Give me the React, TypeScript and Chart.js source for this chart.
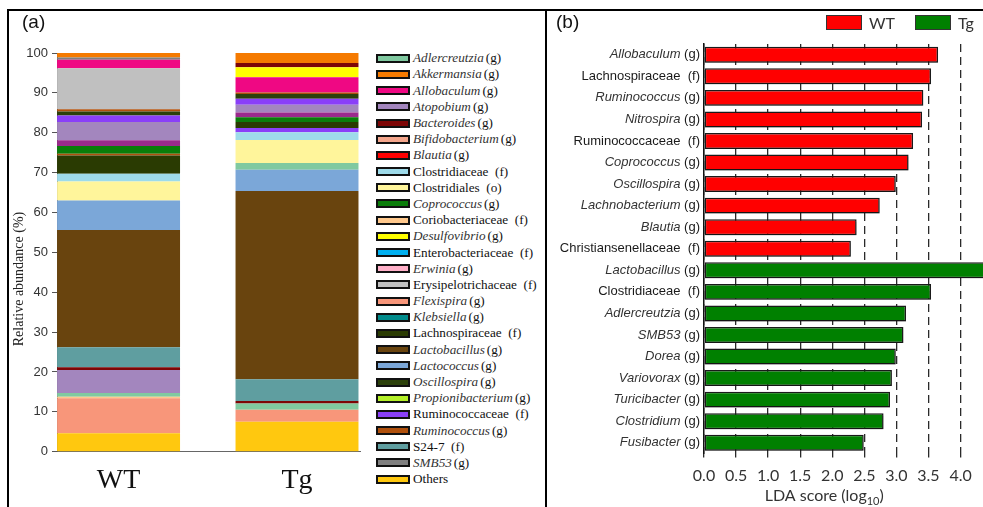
import React, { useEffect, useRef } from 'react';
import { Chart, registerables } from 'chart.js';

Chart.register(...registerables);

// ---------- Panel (a): relative abundance ----------
const barCategories = ['WT', 'Tg'];

const wtTaxa = ['Others', 'Flexispira', 'Coriobacteriaceae', 'Adlercreutzia', 'Atopobium', 'Bacteroides', 'S24-7', 'Lactobacillus', 'Lactococcus', 'Clostridiales', 'Clostridiaceae', 'Lachnospiraceae', 'Ruminococcus', 'Coprococcus', 'Unassigned', 'Atopobium', 'Ruminococcaceae', 'Oscillospira', 'Ruminococcus', 'Erysipelotrichaceae', 'Allobaculum', 'SMB53', 'Akkermansia'];
const wtValues = [4.6, 8.8, 0.4, 0.9, 5.8, 0.7, 5.0, 29.4, 7.4, 4.8, 1.9, 4.6, 0.4, 2.0, 1.4, 4.6, 1.6, 1.0, 0.6, 10.3, 2.1, 0.6, 1.1];

const tgTaxa = ['Others', 'Flexispira', 'Adlercreutzia', 'Bacteroides', 'S24-7', 'Lactobacillus', 'Lactococcus', 'Adlercreutzia', 'Clostridiales', 'Clostridiaceae', 'Ruminococcaceae', 'Lachnospiraceae', 'Coprococcus', 'Unassigned', 'Atopobium', 'Ruminococcaceae', 'Oscillospira', 'Ruminococcus', 'Allobaculum', 'Desulfovibrio', 'Bacteroides', 'Akkermansia'];
const tgValues = [7.5, 3.0, 1.6, 0.6, 5.5, 47.2, 5.3, 1.7, 5.8, 1.9, 1.1, 1.5, 1.2, 1.2, 1.9, 1.5, 1.2, 0.4, 3.8, 2.5, 1.1, 2.5];

const legendTaxa = ['Adlercreutzia', 'Akkermansia', 'Allobaculum', 'Atopobium', 'Bacteroides', 'Bifidobacterium', 'Blautia', 'Clostridiaceae', 'Clostridiales', 'Coprococcus', 'Coriobacteriaceae', 'Desulfovibrio', 'Enterobacteriaceae', 'Erwinia', 'Erysipelotrichaceae', 'Flexispira', 'Klebsiella', 'Lachnospiraceae', 'Lactobacillus', 'Lactococcus', 'Oscillospira', 'Propionibacterium', 'Ruminococcaceae', 'Ruminococcus', 'S24-7', 'SMB53', 'Others'];
const legendRanks = ['g', 'g', 'g', 'g', 'g', 'g', 'g', 'f', 'o', 'g', 'f', 'g', 'f', 'g', 'f', 'g', 'g', 'f', 'g', 'g', 'g', 'g', 'f', 'g', 'f', 'g', ''];

const taxonColors: Record<string, string> = {
  Adlercreutzia: '#80c9a0',
  Akkermansia: '#f57a00',
  Allobaculum: '#ef0883',
  Atopobium: '#a386be',
  Bacteroides: '#7d0606',
  Bifidobacterium: '#f4a68c',
  Blautia: '#ff0000',
  Clostridiaceae: '#9edbea',
  Clostridiales: '#fff59b',
  Coprococcus: '#0a7d0a',
  Coriobacteriaceae: '#ffc88c',
  Desulfovibrio: '#ffff00',
  Enterobacteriaceae: '#00b0f0',
  Erwinia: '#ffb0c8',
  Erysipelotrichaceae: '#c0c0c0',
  Flexispira: '#f8967a',
  Klebsiella: '#008b8b',
  Lachnospiraceae: '#2a3b02',
  Lactobacillus: '#69440e',
  Lactococcus: '#7ba7d8',
  Oscillospira: '#2b400a',
  Propionibacterium: '#b4f028',
  Ruminococcaceae: '#8a3ff8',
  Ruminococcus: '#b0500c',
  'S24-7': '#5f9ea0',
  SMB53: '#808080',
  Others: '#ffc80f',
  Unassigned: '#9b2a8c',
};

// ---------- Panel (b): LEfSe LDA scores ----------
const ldaNames = ['Allobaculum', 'Lachnospiraceae', 'Ruminococcus', 'Nitrospira', 'Ruminococcaceae', 'Coprococcus', 'Oscillospira', 'Lachnobacterium', 'Blautia', 'Christiansenellaceae', 'Lactobacillus', 'Clostridiaceae', 'Adlercreutzia', 'SMB53', 'Dorea', 'Variovorax', 'Turicibacter', 'Clostridium', 'Fusibacter'];
const ldaRanks = ['g', 'f', 'g', 'g', 'f', 'g', 'g', 'g', 'g', 'f', 'g', 'f', 'g', 'g', 'g', 'g', 'g', 'g', 'g'];
const ldaWT = [3.65, 3.54, 3.42, 3.40, 3.26, 3.19, 2.99, 2.74, 2.38, 2.29, null, null, null, null, null, null, null, null, null];
const ldaTg = [null, null, null, null, null, null, null, null, null, null, 4.45, 3.54, 3.15, 3.11, 2.99, 2.93, 2.90, 2.80, 2.49];
const ldaGroups = ['WT', 'Tg'];
const ldaGroupColors = ['#ff0000', '#008000'];
const ldaMax = 4.35;
const ldaStep = 0.5;
const ldaTitleSpan = [0, 3.75];

const ldaLabelPlugin = {
  id: 'ldaLabels',
  afterDraw(chart: any) {
    const { ctx, chartArea } = chart;
    const yScale = chart.scales.y;
    const xScale = chart.scales.x;
    ctx.save();
    ctx.textBaseline = 'middle';
    ctx.textAlign = 'left';
    ctx.fillStyle = '#1a1a1a';
    const right = chartArea.left - 4;
    const base = '13px "Liberation Sans", Arial, sans-serif';
    ldaNames.forEach((name, i) => {
      const y = yScale.getPixelForValue(i);
      const rank = ldaRanks[i];
      const italic = rank === 'g';
      const suffix = '(' + rank + ')';
      ctx.font = base;
      const gapW = ctx.measureText(italic ? ' ' : '  ').width;
      const sufW = ctx.measureText(suffix).width;
      ctx.font = (italic ? 'italic ' : '') + base;
      const nameW = ctx.measureText(name).width;
      const x0 = right - sufW - gapW - nameW;
      ctx.fillStyle = italic ? '#333' : '#1a1a1a';
      ctx.fillText(name, x0, y);
      ctx.font = base;
      ctx.fillStyle = '#1a1a1a';
      ctx.fillText(suffix, right - sufW, y);
    });
    // axis title with subscript
    const cx = (xScale.getPixelForValue(ldaTitleSpan[0]) + xScale.getPixelForValue(ldaTitleSpan[1])) / 2;
    const by = chart.height - 6;
    const mainFont = '16px Lato, "Open Sans", sans-serif';
    const subFont = '11px Lato, "Open Sans", sans-serif';
    const t1 = 'LDA score (log';
    const t2 = '10';
    const t3 = ')';
    ctx.font = mainFont;
    const w1 = ctx.measureText(t1).width;
    const w3 = ctx.measureText(t3).width;
    ctx.font = subFont;
    const w2 = ctx.measureText(t2).width;
    let x = cx - (w1 + w2 + w3) / 2;
    ctx.textBaseline = 'alphabetic';
    ctx.fillStyle = '#333';
    ctx.font = mainFont;
    ctx.fillText(t1, x, by);
    x += w1;
    ctx.font = subFont;
    ctx.fillText(t2, x, by + 4);
    x += w2;
    ctx.font = mainFont;
    ctx.fillText(t3, x, by);
    ctx.restore();
  },
};

const barShadowPlugin = {
  id: 'barShadow',
  beforeDatasetsDraw(chart: any) {
    const c = chart.ctx;
    c.save();
    c.shadowColor = 'rgba(0,0,0,0.22)';
    c.shadowOffsetX = 0;
    c.shadowOffsetY = 2.5;
    c.shadowBlur = 0;
  },
  afterDatasetsDraw(chart: any) {
    chart.ctx.restore();
  },
};

function AbundanceChart() {
  const ref = useRef<HTMLCanvasElement | null>(null);
  useEffect(() => {
    if (!ref.current) return;
    const n = Math.max(wtValues.length, tgValues.length);
    const datasets: any[] = [];
    for (let i = 0; i < n; i++) {
      datasets.push({
        label: 'segment ' + i,
        data: [
          { x: 0, y: wtValues[i] ?? 0 },
          { x: 1, y: tgValues[i] ?? 0 },
        ],
        backgroundColor: [taxonColors[wtTaxa[i]] ?? 'transparent', taxonColors[tgTaxa[i]] ?? 'transparent'],
        borderWidth: 0,
        barPercentage: 0.689,
        categoryPercentage: 1,
      });
    }
    const chart = new Chart(ref.current, {
      type: 'bar',
      data: { datasets },
      options: {
        animation: false,
        responsive: false,
        layout: { padding: { top: 43, right: 10, left: 0, bottom: 0 } },
        plugins: { legend: { display: false }, tooltip: { enabled: false } },
        scales: {
          x: {
            type: 'linear',
            offset: false,
            stacked: true,
            min: -0.345,
            max: 1.353,
            afterBuildTicks: (s: any) => {
              s.ticks = barCategories.map((_, i) => ({ value: i }));
            },
            afterFit: (s: any) => {
              s.height = 55.3;
            },
            ticks: {
              callback: (v: any) => barCategories[v] ?? '',
              font: { family: '"Liberation Serif", "Times New Roman", serif', size: 28 },
              color: '#111',
              padding: 12,
              maxRotation: 0,
              autoSkip: false,
            },
            grid: { display: false, drawTicks: false, offset: false },
            border: { display: true, color: '#666', width: 1 },
          },
          y: {
            stacked: true,
            min: 0,
            max: 100,
            afterFit: (s: any) => {
              s.width = 49;
            },
            ticks: {
              stepSize: 10,
              font: { family: '"Liberation Sans", Arial, sans-serif', size: 13 },
              color: '#333',
              padding: 4,
            },
            grid: { drawOnChartArea: false, tickLength: 5, color: '#555' },
            border: { display: true, color: '#555' },
          },
        },
      } as any,
    });
    return () => chart.destroy();
  }, []);
  return <canvas ref={ref} width={362} height={497} style={{ position: 'absolute', left: 8, top: 10, width: 362, height: 497 }} />;
}

function LdaChart() {
  const ref = useRef<HTMLCanvasElement | null>(null);
  useEffect(() => {
    if (!ref.current) return;
    const chart = new Chart(ref.current, {
      type: 'bar',
      data: {
        labels: ldaNames,
        datasets: [
          { label: ldaGroups[0], data: ldaWT, backgroundColor: ldaGroupColors[0], borderColor: '#1a1a1a', borderWidth: 1.5, borderSkipped: false },
          { label: ldaGroups[1], data: ldaTg, backgroundColor: ldaGroupColors[1], borderColor: '#1a1a1a', borderWidth: 1.5, borderSkipped: false },
        ],
      },
      options: {
        indexAxis: 'y',
        animation: false,
        responsive: false,
        datasets: { bar: { grouped: false, barPercentage: 0.74, categoryPercentage: 1 } },
        layout: { padding: { top: 34, right: 0, left: 0, bottom: 0 } },
        plugins: { legend: { display: false }, tooltip: { enabled: false } },
        scales: {
          x: {
            min: 0,
            max: ldaMax,
            z: 1,
            afterFit: (s: any) => {
              s.height = 53.5;
            },
            ticks: {
              stepSize: ldaStep,
              includeBounds: false,
              callback: (v: any) => Number(v).toFixed(1),
              font: { family: 'Lato, "Open Sans", sans-serif', size: 16 },
              color: '#333',
              padding: 9,
              maxRotation: 0,
            },
            grid: { color: '#2a2a2a', lineWidth: 1.3, tickLength: 4 },
            border: { display: false, dash: [8, 5] },
          },
          y: {
            afterFit: (s: any) => {
              s.width = 155;
            },
            ticks: { display: false },
            grid: { display: false },
            border: { display: true, color: '#111', width: 1.5 },
          },
        },
      } as any,
      plugins: [barShadowPlugin, ldaLabelPlugin],
    });
    return () => chart.destroy();
  }, []);
  return <canvas ref={ref} width={434} height={497} style={{ position: 'absolute', left: 549, top: 10, width: 434, height: 497 }} />;
}

function AbundanceLegend() {
  return (
    <div style={{ position: 'absolute', left: 376, top: 50.2, display: 'flex', flexDirection: 'column' }}>
      {legendTaxa.map((name, i) => {
        const rank = legendRanks[i];
        const italic = rank === 'g';
        return (
          <div key={name} style={{ display: 'flex', alignItems: 'center', height: 16.2 }}>
            <div style={{ width: 34, height: 9, boxSizing: 'border-box', border: '2px solid #111', background: taxonColors[name], marginRight: 3, flex: 'none' }} />
            <span style={{ fontFamily: '"Liberation Serif", "Times New Roman", serif', fontSize: 13.2, color: '#111', whiteSpace: 'pre', lineHeight: '16px' }}>
              <span style={{ fontStyle: italic ? 'italic' : 'normal', color: italic ? '#333' : '#111' }}>{name}</span>
              {rank === '' ? '' : italic ? <span style={{ marginLeft: 2 }}>({rank})</span> : '  (' + rank + ')'}
            </span>
          </div>
        );
      })}
    </div>
  );
}

function LdaLegend() {
  const font = { fontFamily: 'Lato, "Open Sans", sans-serif', fontSize: 16, color: '#333' };
  return (
    <div style={{ position: 'absolute', left: 826, top: 15, display: 'flex', alignItems: 'center', height: 15 }}>
      {ldaGroups.map((g, i) => (
        <React.Fragment key={g}>
          <div style={{ width: 36, height: 15, boxSizing: 'border-box', border: '1.5px solid #333', background: ldaGroupColors[i], marginRight: 7 }} />
          <span style={{ ...font, marginRight: i === 0 ? 20 : 0, lineHeight: '15px' }}>{g}</span>
        </React.Fragment>
      ))}
    </div>
  );
}

export default function App() {
  return (
    <div style={{ position: 'absolute', left: 0, top: 0, width: 983, height: 507, background: '#fff', overflow: 'hidden' }}>
      <AbundanceChart />
      <LdaChart />
      <AbundanceLegend />
      <LdaLegend />
      <div style={{ position: 'absolute', left: 19, top: 279, transform: 'translate(-50%, -50%) rotate(-90deg)', whiteSpace: 'nowrap', fontFamily: '"Liberation Serif", "Times New Roman", serif', fontSize: 14, color: '#222' }}>
        Relative abundance (%)
      </div>
      <div style={{ position: 'absolute', left: 22, top: 11, fontFamily: '"Liberation Sans", Arial, sans-serif', fontSize: 19, lineHeight: '22px', color: '#111' }}>(a)</div>
      <div style={{ position: 'absolute', left: 556, top: 11, fontFamily: '"Liberation Sans", Arial, sans-serif', fontSize: 19, lineHeight: '22px', color: '#111' }}>(b)</div>
      <div style={{ position: 'absolute', left: 7, top: 9, width: 976, height: 2, background: '#000' }} />
      <div style={{ position: 'absolute', left: 7, top: 9, width: 2, height: 498, background: '#000' }} />
      <div style={{ position: 'absolute', left: 545, top: 9, width: 2, height: 498, background: '#000' }} />
    </div>
  );
}
